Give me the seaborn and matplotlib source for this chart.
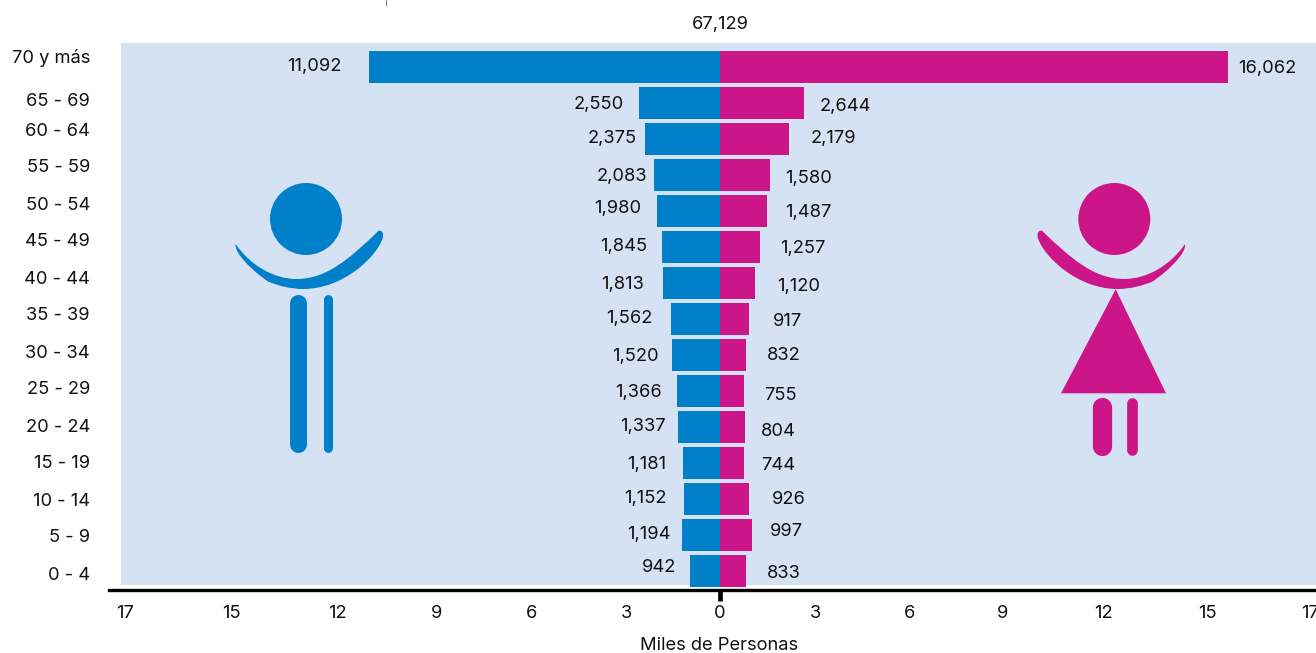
import numpy as np
import pandas as pd
import matplotlib
matplotlib.use("Agg")
import matplotlib.pyplot as plt
import seaborn as sns
from matplotlib.path import Path
from matplotlib.patches import PathPatch, Circle, Polygon, Rectangle

# Data, in thousands of people, oldest group first
ages = ["70 y más", "65 - 69", "60 - 64", "55 - 59", "50 - 54", "45 - 49", "40 - 44", "35 - 39",
        "30 - 34", "25 - 29", "20 - 24", "15 - 19", "10 - 14", "5 - 9", "0 - 4"]
men = [11092, 2550, 2375, 2083, 1980, 1845, 1813, 1562, 1520, 1366, 1337, 1181, 1152, 1194, 942]
women = [16062, 2644, 2179, 1580, 1487, 1257, 1120, 917, 832, 755, 804, 744, 926, 997, 833]
total_label = "67,129"

# The printed axis is not linear, so labels sit where the picture has them
tick_labels = ["17", "15", "12", "9", "6", "3", "0", "3", "6", "9", "12", "15", "17"]
tick_pos = [-18.8, -15.45, -12.1, -8.97, -5.94, -2.94, 0, 3.03, 6.0, 8.94, 12.1, 15.39, 18.64]

# Hand placed label positions (pixels), they wander in the source
age_label_y = [57, 100, 130, 167, 204, 241, 278, 315, 352, 389, 426, 463, 500, 537, 574]
men_label_xy = [(314, 65), (599, 104), (612, 138), (622, 175), (618, 207), (624, 246), (623, 283), (629, 317),
                (635, 355), (639, 391), (643, 425), (647, 463), (645, 497), (649, 533), (659, 567)]
women_label_xy = [(1267, 67), (845, 106), (833, 137), (809, 178), (808, 212), (803, 247), (799, 285), (787, 321),
                  (784, 355), (780, 394), (778, 430), (778, 464), (789, 498), (786, 531), (784, 572)]

BLUE = "#0080C8"
PINK = "#CD158A"
PANE = "#D5E2F3"
W, H = 1316, 653

sns.set_theme(style="white")
plt.rcParams["font.family"] = ["Inter", "DejaVu Sans"]
FS = 13.2

fig = plt.figure(figsize=(W / 100, H / 100), dpi=100, facecolor="white")

# Background layer in pixel coordinates: pane, icons, labels
ov = fig.add_axes([0, 0, 1, 1], zorder=0)
ov.set_xlim(0, W)
ov.set_ylim(H, 0)
ov.axis("off")
ov.add_patch(Rectangle((121, 43), W - 121, 585 - 43, fc=PANE, ec="none"))
ov.plot([386, 386], [0, 5], color="#777777", lw=0.8)


def arm_path(to_px):
    pts = [(107, 222), (150, 285), (220, 327), (290, 327), (380, 327), (450, 265), (535, 183),
           (545, 178), (553, 190), (548, 205), (530, 260), (430, 357), (310, 357), (270, 357),
           (235, 347), (205, 335), (160, 305), (102, 250), (107, 222)]
    codes = [Path.MOVETO] + [Path.CURVE4] * 18
    return Path([to_px(*p) for p in pts], codes)


def limb(x, y0, y1, width, color):
    r = width / 2
    ov.plot([x, x], [y0 + r, y1 - r], color=color, lw=width * 0.72, solid_capstyle="round")


# man
man_px = lambda x, y: (200 + x / 3, 170 + y / 3)
ov.add_patch(Circle((306, 219), 36, fc=BLUE, ec="none"))
ov.add_patch(PathPatch(arm_path(man_px), fc=BLUE, ec="none"))
limb(297.5, 294, 452, 17, BLUE)
limb(328.2, 294, 452, 9, BLUE)

# woman, arms mirrored
woman_px = lambda x, y: (1010 + (632 - x) / 3, 170 + y / 3)
ov.add_patch(Circle((1114.3, 219), 36, fc=PINK, ec="none"))
ov.add_patch(PathPatch(arm_path(woman_px), fc=PINK, ec="none"))
ov.add_patch(Polygon([(1115.7, 289.3), (1061, 393.3), (1166, 393.3)], fc=PINK, ec="none"))
limb(1102, 397.7, 455.7, 19.3, PINK)
limb(1132.3, 397.7, 455.7, 10.7, PINK)

# Pyramid
df = pd.DataFrame({
    "age": ages * 2,
    "value": [-v / 1000 for v in men] + [v / 1000 for v in women],
    "sex": ["Hombres"] * len(ages) + ["Mujeres"] * len(ages),
})
top, bottom, left = 43, 590, 109
ax = fig.add_axes([left / W, 1 - bottom / H, (W - left) / W, (bottom - top) / H], zorder=1)
ax.patch.set_alpha(0)
sns.barplot(data=df, y="age", x="value", hue="sex", order=ages, dodge=False, width=32 / 36,
            palette={"Hombres": BLUE, "Mujeres": PINK}, saturation=1, legend=False, ax=ax, linewidth=0)
ppu = 31.65
ax.set_xlim((left - 720) / ppu, (W - 720) / ppu)
ax.set_ylim((bottom - 67) / 36, (top - 67) / 36)
ax.set_xlabel("")
ax.set_ylabel("")
ax.set_yticks([])
ax.set_xticks(tick_pos)
ax.set_xticklabels(tick_labels, fontsize=FS, color="#111111")
ax.tick_params(axis="x", length=8, width=3.4, color="black", pad=2.5, bottom=True)
for tick, lab in zip(ax.xaxis.get_major_ticks(), tick_pos):
    tick.tick1line.set_visible(lab == 0)
sns.despine(ax=ax, left=True, top=True, right=True)
ax.spines["bottom"].set_linewidth(2.4)
ax.spines["bottom"].set_color("black")

# Text
txt = dict(fontsize=FS, color="#111111", va="center")
for lab, y in zip(ages, age_label_y):
    ov.text(90, y + 1, lab, ha="right", **txt)
for v, (x, y) in zip(men, men_label_xy):
    ov.text(x, y + 1, f"{v:,}", ha="center", **txt)
for v, (x, y) in zip(women, women_label_xy):
    ov.text(x, y + 1, f"{v:,}", ha="center", **txt)
ov.text(720, 24, total_label, ha="center", **txt)
ov.text(719.5, 646, "Miles de Personas", ha="center", **txt)

fig.savefig("out.png", dpi=100)
